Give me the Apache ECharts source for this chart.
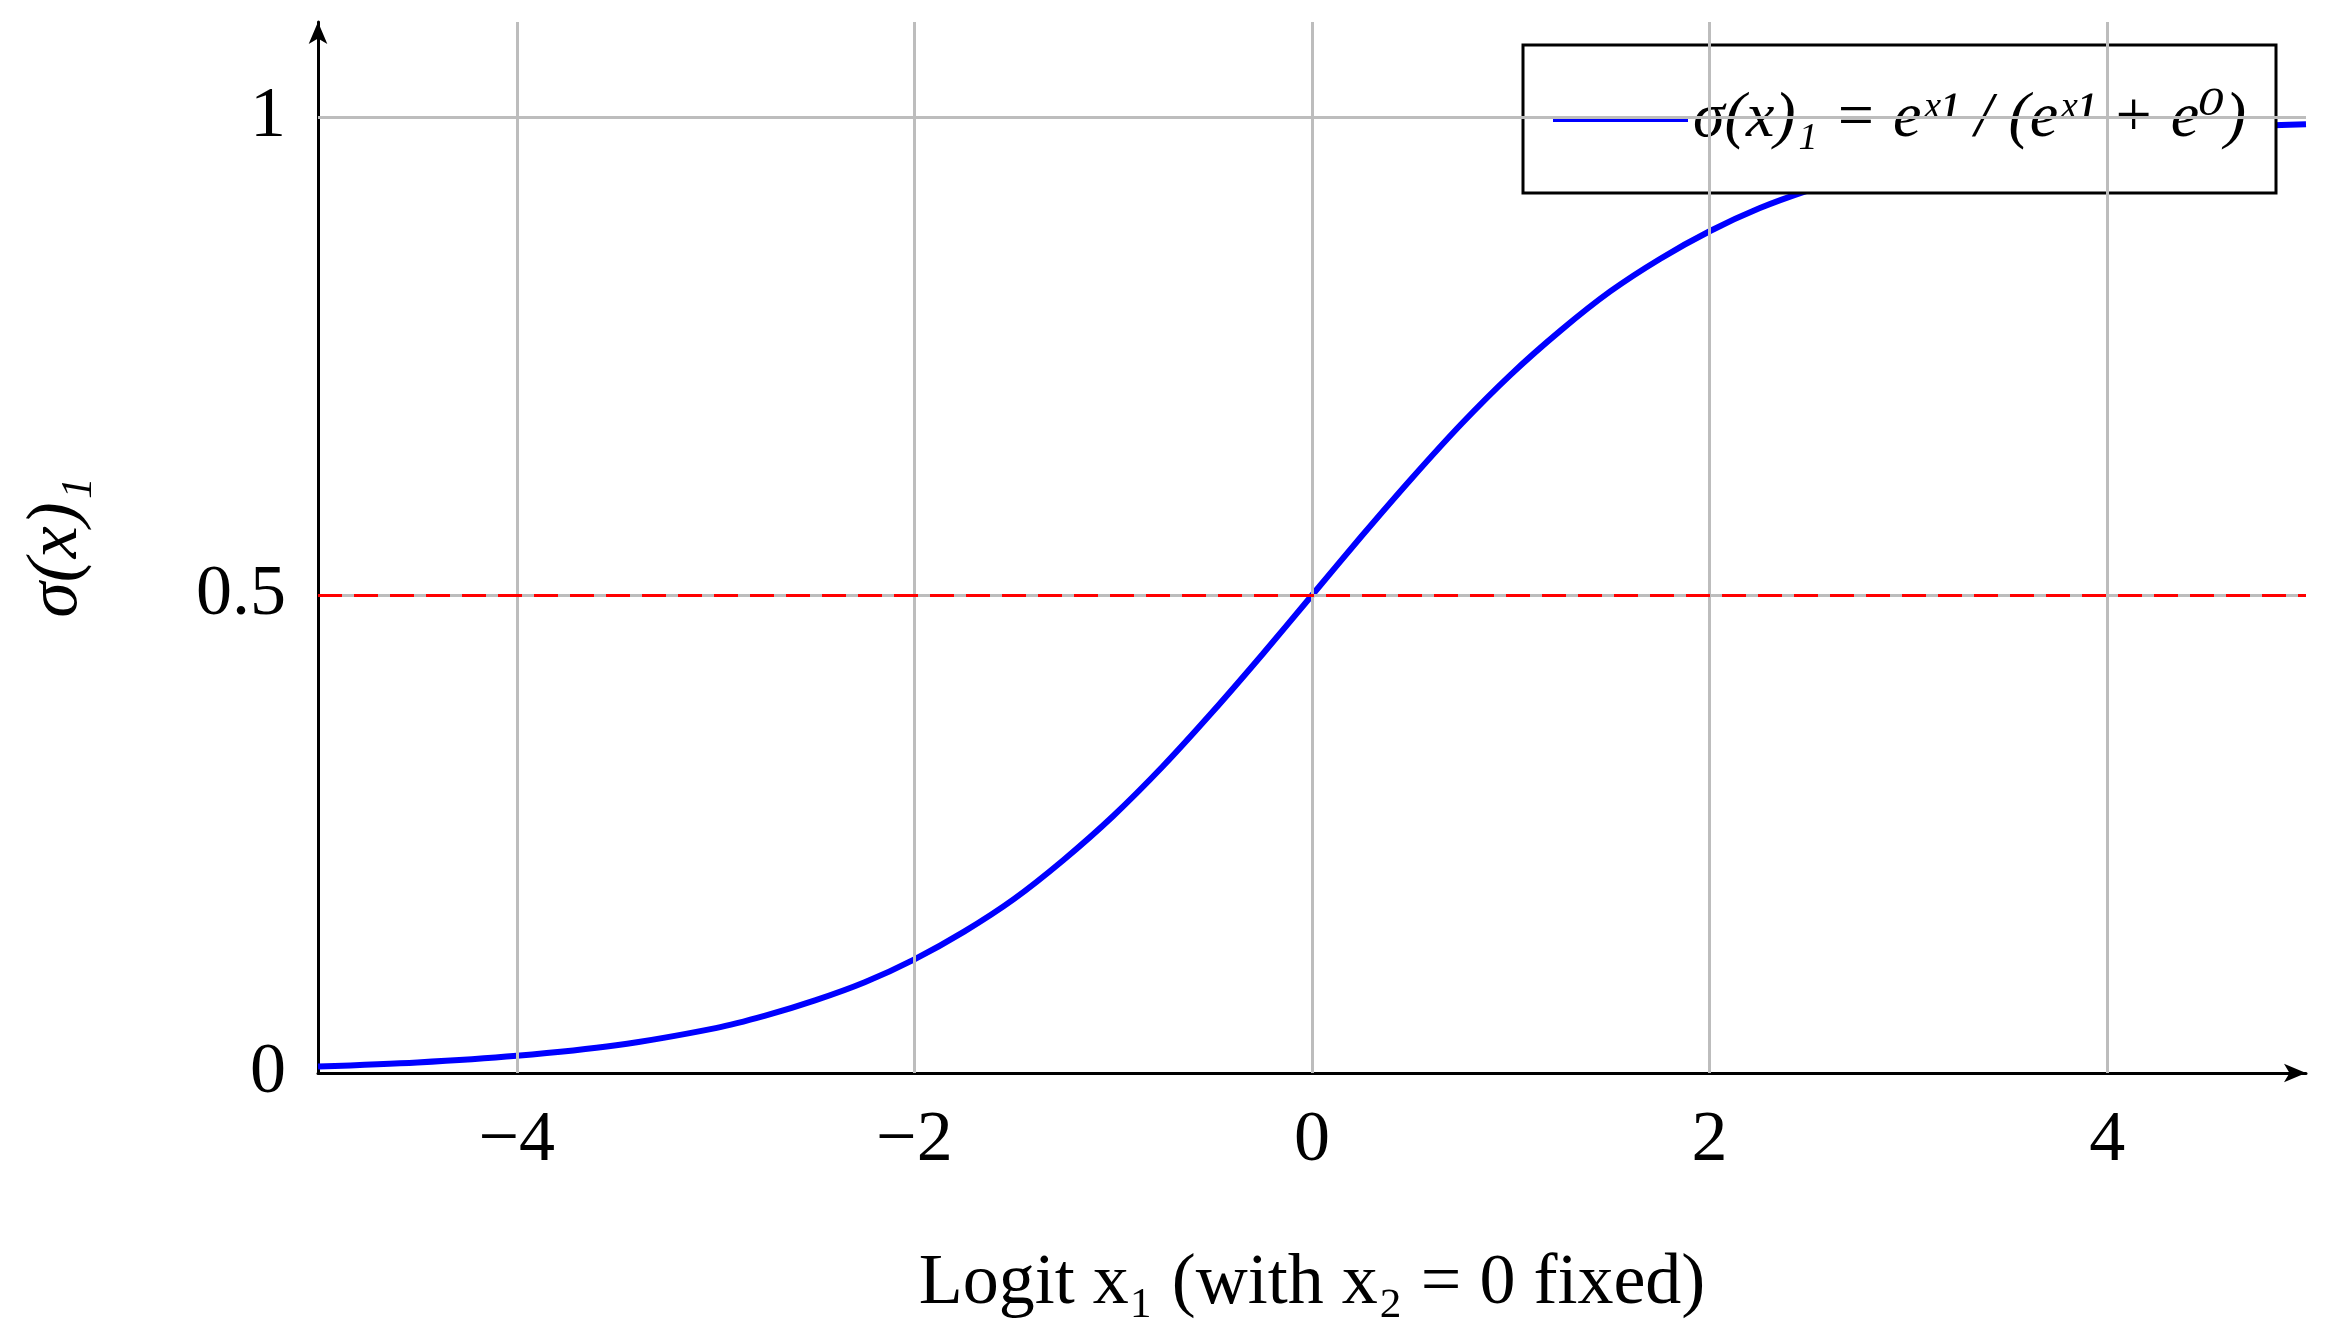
<!DOCTYPE html>
<html><head><meta charset="utf-8">
<script src="https://cdn.jsdelivr.net/npm/echarts@6/dist/echarts.min.js"></script>
<style>html,body{margin:0;background:#fff}#c{width:2339px;height:1339px}</style>
</head><body><div id="c"></div>
<script>
const xValues = [-5,-4.5,-4,-3.5,-3,-2.75,-2.5,-2.25,-2,-1.75,-1.5,-1.25,-1,-0.75,-0.5,-0.25,0,0.25,0.5,0.75,1,1.25,1.5,1.75,2,2.25,2.5,2.75,3,3.5,4,4.5,5];
const sigmaValues = [0.0067,0.011,0.018,0.029,0.047,0.060,0.076,0.095,0.119,0.148,0.182,0.223,0.269,0.321,0.378,0.438,0.5,0.562,0.622,0.679,0.731,0.777,0.818,0.852,0.881,0.905,0.924,0.940,0.953,0.971,0.982,0.989,0.993];
const xTicks = [-4,-2,0,2,4];
const yTicks = [0,0.5,1];
const threshold = 0.5;
const seriesName = '\u03c3(x)\u2081 = e\u02e3\u00b9 / (e\u02e3\u00b9 + e\u2070)';

const F = '"Liberation Serif","DejaVu Serif",serif';
const chart = echarts.init(document.getElementById('c'));
const gridColor = '#bdbdbd';
chart.setOption({
  animation:false,
  grid:{left:318,right:33,top:22,bottom:266},
  xAxis:{type:'value',min:-5,max:5,interval:1,
    axisLine:{onZero:false,lineStyle:{color:'#000',width:3},symbol:['none','arrow'],symbolSize:[14,22]},
    axisTick:{show:false},splitLine:{show:false},
    axisLabel:{customValues:xTicks,fontFamily:F,fontSize:72,color:'#000',margin:32,
      formatter:v=>v<0?'\u2212'+Math.abs(v):String(v)},
    name:'Logit x\u2081 (with x\u2082 = 0 fixed)',nameLocation:'middle',nameGap:175,
    nameTextStyle:{fontFamily:F,fontSize:72,color:'#000'}},
  yAxis:{type:'value',min:0,max:1.1,interval:0.5,
    axisLine:{show:true,onZero:false,lineStyle:{color:'#000',width:3},symbol:['none','arrow'],symbolSize:[14,22]},
    axisTick:{show:false},splitLine:{show:false},
    axisLabel:{customValues:yTicks,fontFamily:F,fontSize:72,color:'#000',margin:32},
    name:'\u03c3(x)\u2081',nameLocation:'middle',nameGap:225,nameRotate:90,
    nameTextStyle:{fontFamily:F,fontSize:72,fontStyle:'italic',color:'#000'}},
  legend:{right:63,top:45,orient:'horizontal',backgroundColor:'#fff',borderColor:'#000',borderWidth:3,
    padding:[42,30],itemWidth:135,itemHeight:6,itemGap:20,
    textStyle:{fontFamily:F,fontSize:64,fontStyle:'italic',color:'#000'},
    data:[{name:seriesName,icon:'rect'}]},
  series:[
    {type:'line',silent:true,data:[],z:1,
     markLine:{symbol:'none',silent:true,label:{show:false},
       lineStyle:{color:gridColor,width:3,type:'solid'},
       data:xTicks.map(v=>({xAxis:v})).concat(yTicks.filter(v=>v>0).map(v=>({yAxis:v})))}},
    {name:seriesName,type:'line',smooth:0.3,showSymbol:false,
     data:xValues.map((x,i)=>[x,sigmaValues[i]]),
     lineStyle:{color:'#0000ff',width:6},itemStyle:{color:'#0000ff'},z:3,
     markLine:{symbol:'none',silent:true,label:{show:false},
       lineStyle:{color:'#ff0000',width:3,type:[24,12]},data:[{yAxis:threshold}]}}
  ]
});
</script></body></html>
